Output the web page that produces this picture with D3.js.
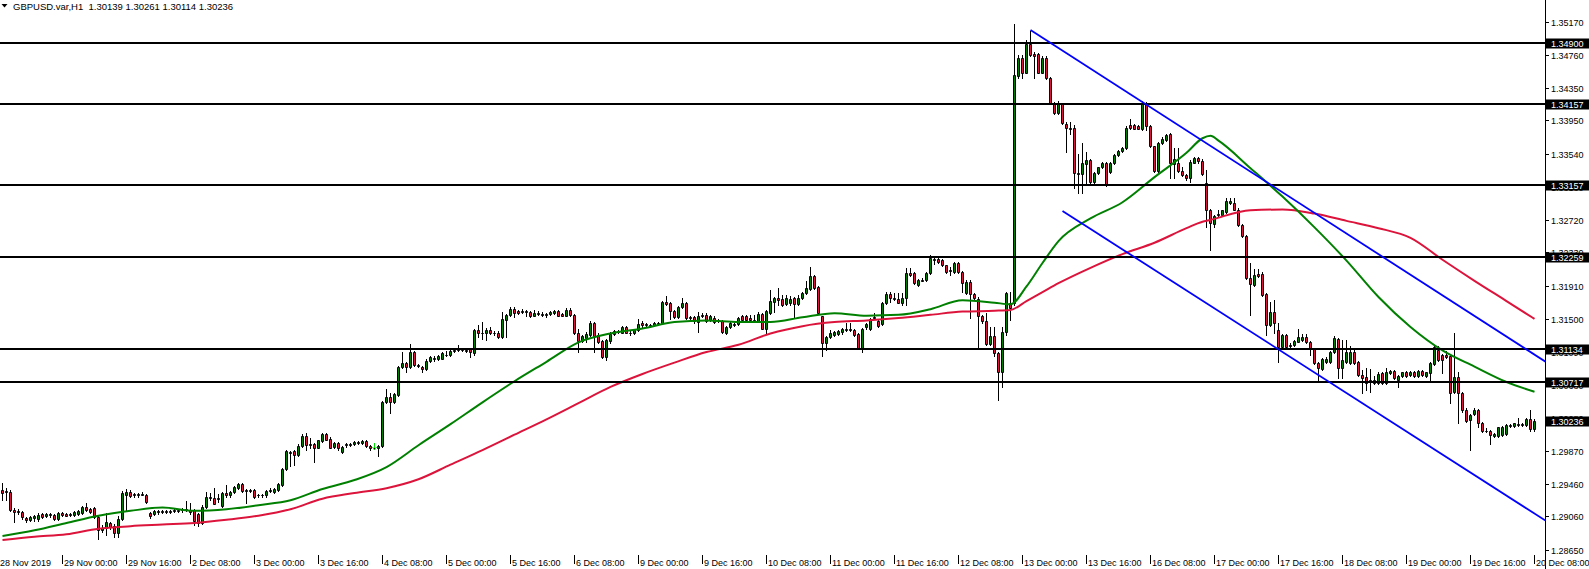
<!DOCTYPE html>
<html><head><meta charset="utf-8">
<script src="https://cdn.jsdelivr.net/npm/d3@7"></script>
<style>
body{margin:0;background:#fff;}
svg{display:block;}
text{font-family:"Liberation Sans",Arial,sans-serif;font-size:9px;}
text.title{font-size:9.5px;}
</style>
</head><body>
<svg id="c" width="1589" height="569"></svg>
<script>
const symbol = "GBPUSD.var,H1";
const opens = [
1.2939,1.2936,1.2936,1.2914,1.2912,1.2912,1.2904,1.2902,1.2904,1.2903,1.2909,1.2907,1.2908,1.2908,1.2903,1.2910,
1.2909,1.2908,1.2908,1.2909,1.2910,1.2918,1.2915,1.2916,1.2905,1.2889,1.2892,1.2898,1.2894,1.2886,1.2903,1.2933,
1.2936,1.2934,1.2933,1.2934,1.2933,1.2910,1.2909,1.2912,1.2912,1.2913,1.2912,1.2913,1.2913,1.2914,1.2914,1.2914,
1.2914,1.2909,1.2898,1.2918,1.2929,1.2929,1.2928,1.2919,1.2935,1.2932,1.2936,1.2941,1.2946,1.2939,1.2939,1.2939,
1.2933,1.2932,1.2932,1.2938,1.2936,1.2939,1.2945,1.2965,1.2985,1.2987,1.2982,1.2993,1.3005,1.2994,1.2996,1.2991,
1.2999,1.3008,1.3002,1.2992,1.2997,1.2986,1.2994,1.2994,1.2996,1.2997,1.2997,1.2999,1.2993,1.2991,1.2991,1.2993,
1.3047,1.3054,1.3047,1.3056,1.3091,1.3096,1.3091,1.3109,1.3093,1.3091,1.3088,1.3098,1.3101,1.3100,1.3101,1.3105,
1.3105,1.3110,1.3112,1.3112,1.3112,1.3113,1.3108,1.3136,1.3133,1.3132,1.3136,1.3133,1.3133,1.3128,1.3149,1.3155,
1.3162,1.3160,1.3158,1.3160,1.3158,1.3154,1.3157,1.3156,1.3156,1.3156,1.3157,1.3160,1.3156,1.3154,1.3161,1.3155,
1.3132,1.3123,1.3126,1.3130,1.3145,1.3130,1.3123,1.3103,1.3123,1.3131,1.3134,1.3133,1.3140,1.3133,1.3132,1.3136,
1.3145,1.3144,1.3142,1.3142,1.3144,1.3145,1.3171,1.3170,1.3160,1.3152,1.3165,1.3170,1.3152,1.3152,1.3146,1.3154,
1.3155,1.3149,1.3151,1.3149,1.3147,1.3133,1.3140,1.3144,1.3144,1.3154,1.3154,1.3151,1.3149,1.3147,1.3156,1.3138,
1.3157,1.3171,1.3176,1.3175,1.3168,1.3170,1.3176,1.3168,1.3176,1.3182,1.3187,1.3203,1.3189,1.3153,1.3120,1.3128,
1.3130,1.3131,1.3134,1.3137,1.3137,1.3136,1.3131,1.3114,1.3140,1.3138,1.3151,1.3147,1.3144,1.3170,1.3181,1.3176,
1.3175,1.3170,1.3176,1.3207,1.3207,1.3192,1.3198,1.3198,1.3207,1.3224,1.3224,1.3223,1.3216,1.3210,1.3208,1.3219,
1.3208,1.3182,1.3195,1.3181,1.3175,1.3153,1.3147,1.3119,1.3129,1.3108,1.3085,1.3134,1.3170,1.3170,1.3450,1.3472,
1.3454,1.3489,1.3477,1.3477,1.3454,1.3472,1.3447,1.3416,1.3404,1.3415,1.3391,1.3386,1.3386,1.3330,1.3329,1.3341,
1.3346,1.3319,1.3330,1.3337,1.3342,1.3331,1.3342,1.3352,1.3357,1.3361,1.3389,1.3389,1.3388,1.3385,1.3416,1.3388,
1.3363,1.3332,1.3367,1.3371,1.3378,1.3341,1.3342,1.3332,1.3328,1.3324,1.3343,1.3349,1.3345,1.3318,1.3284,1.3267,
1.3278,1.3278,1.3282,1.3293,1.3293,1.3285,1.3266,1.3252,1.3200,1.3192,1.3206,1.3206,1.3181,1.3142,1.3159,1.3136,
1.3115,1.3130,1.3118,1.3118,1.3122,1.3124,1.3128,1.3122,1.3113,1.3096,1.3088,1.3097,1.3097,1.3109,1.3125,1.3089,
1.3097,1.3095,1.3109,1.3097,1.3081,1.3078,1.3074,1.3071,1.3071,1.3083,1.3071,1.3083,1.3086,1.3075,1.3079,1.3085,
1.3081,1.3085,1.3079,1.3086,1.3079,1.3083,1.3094,1.3112,1.3105,1.3105,1.3104,1.3060,1.3078,1.3058,1.3037,1.3025,
1.3033,1.3037,1.3022,1.3012,1.3012,1.3005,1.3005,1.3007,1.3008,1.3019,1.3018,1.3020,1.3020,1.3019,1.3026,1.30139
];
const highs = [
1.2947,1.2941,1.2939,1.2916,1.2915,1.2913,1.2905,1.2907,1.2908,1.2910,1.2910,1.2910,1.2910,1.2909,1.2912,1.2912,
1.2910,1.2910,1.2913,1.2914,1.2919,1.2923,1.2916,1.2918,1.2907,1.2895,1.2910,1.2899,1.2897,1.2907,1.2937,1.2940,
1.2939,1.2935,1.2935,1.2936,1.2934,1.2912,1.2914,1.2914,1.2914,1.2914,1.2914,1.2915,1.2915,1.2916,1.2925,1.2923,
1.2915,1.2910,1.2920,1.2936,1.2935,1.2941,1.2934,1.2936,1.2945,1.2938,1.2944,1.2947,1.2947,1.2940,1.2940,1.2940,
1.2934,1.2934,1.2939,1.2941,1.2941,1.2947,1.2966,1.2988,1.2987,1.2988,1.2996,1.3008,1.3009,1.3003,1.2997,1.3001,
1.3009,1.3009,1.3004,1.2998,1.2998,1.2993,1.2997,1.2997,1.2999,1.2999,1.3000,1.3000,1.2994,1.2993,1.2994,1.3049,
1.3063,1.3058,1.3058,1.3092,1.3109,1.3097,1.3119,1.3110,1.3094,1.3092,1.3100,1.3104,1.3104,1.3105,1.3109,1.3110,
1.3112,1.3113,1.3118,1.3113,1.3113,1.3114,1.3137,1.3142,1.3146,1.3139,1.3140,1.3135,1.3135,1.3159,1.3156,1.3165,
1.3165,1.3161,1.3162,1.3161,1.3160,1.3161,1.3160,1.3158,1.3157,1.3160,1.3161,1.3161,1.3157,1.3163,1.3163,1.3156,
1.3137,1.3130,1.3134,1.3147,1.3146,1.3133,1.3124,1.3125,1.3134,1.3136,1.3136,1.3141,1.3141,1.3135,1.3137,1.3150,
1.3147,1.3145,1.3144,1.3146,1.3146,1.3172,1.3178,1.3171,1.3161,1.3166,1.3176,1.3171,1.3154,1.3154,1.3158,1.3157,
1.3157,1.3155,1.3154,1.3150,1.3149,1.3141,1.3147,1.3145,1.3152,1.3155,1.3155,1.3155,1.3155,1.3158,1.3157,1.3161,
1.3186,1.3177,1.3188,1.3179,1.3179,1.3178,1.3177,1.3179,1.3183,1.3197,1.3214,1.3204,1.3191,1.3154,1.3129,1.3136,
1.3135,1.3136,1.3139,1.3145,1.3145,1.3137,1.3133,1.3139,1.3145,1.3151,1.3157,1.3149,1.3171,1.3183,1.3183,1.3182,
1.3182,1.3182,1.3213,1.3213,1.3208,1.3199,1.3200,1.3208,1.3229,1.3228,1.3227,1.3224,1.3217,1.3214,1.3220,1.3220,
1.3209,1.3198,1.3198,1.3182,1.3177,1.3155,1.3157,1.3140,1.3140,1.3109,1.3140,1.3183,1.3183,1.3514,1.3476,1.3476,
1.3494,1.3505,1.3480,1.3478,1.3474,1.3474,1.3449,1.3418,1.3419,1.3416,1.3393,1.3393,1.3389,1.3354,1.3367,1.3356,
1.3347,1.3331,1.3338,1.3344,1.3344,1.3344,1.3354,1.3359,1.3362,1.3388,1.3397,1.3391,1.3389,1.3419,1.3418,1.3389,
1.3364,1.3368,1.3375,1.3378,1.3379,1.3361,1.3361,1.3338,1.3329,1.3346,1.3350,1.3350,1.3347,1.3334,1.3286,1.3278,
1.3284,1.3285,1.3299,1.3299,1.3299,1.3287,1.3267,1.3253,1.3219,1.3212,1.3212,1.3208,1.3182,1.3171,1.3173,1.3145,
1.3131,1.3131,1.3120,1.3124,1.3137,1.3131,1.3131,1.3123,1.3114,1.3097,1.3102,1.3103,1.3110,1.3129,1.3126,1.3124,
1.3124,1.3116,1.3112,1.3098,1.3087,1.3089,1.3088,1.3079,1.3085,1.3085,1.3089,1.3087,1.3087,1.3081,1.3085,1.3086,
1.3086,1.3086,1.3087,1.3087,1.3085,1.3097,1.3118,1.3116,1.3107,1.3110,1.3105,1.3133,1.3085,1.3060,1.3040,1.3033,
1.3040,1.3039,1.3023,1.3015,1.3013,1.3009,1.3017,1.3018,1.3020,1.3020,1.3022,1.3027,1.3021,1.3027,1.3037,1.30261
];
const lows = [
1.2926,1.2926,1.2913,1.2899,1.2909,1.2903,1.2899,1.2900,1.2900,1.2900,1.2904,1.2905,1.2905,1.2902,1.2902,1.2907,
1.2907,1.2907,1.2907,1.2908,1.2909,1.2913,1.2910,1.2904,1.2878,1.2887,1.2883,1.2891,1.2881,1.2881,1.2902,1.2913,
1.2930,1.2930,1.2930,1.2932,1.2923,1.2904,1.2908,1.2909,1.2910,1.2910,1.2910,1.2912,1.2912,1.2912,1.2913,1.2909,
1.2896,1.2894,1.2897,1.2916,1.2926,1.2921,1.2924,1.2918,1.2930,1.2930,1.2935,1.2940,1.2936,1.2923,1.2936,1.2929,
1.2930,1.2930,1.2930,1.2936,1.2935,1.2938,1.2944,1.2963,1.2968,1.2970,1.2981,1.2992,1.2988,1.2990,1.2973,1.2990,
1.2998,1.3000,1.2990,1.2991,1.2988,1.2984,1.2992,1.2993,1.2994,1.2996,1.2996,1.2992,1.2988,1.2989,1.2981,1.2992,
1.3046,1.3034,1.3046,1.3055,1.3089,1.3084,1.3089,1.3092,1.3091,1.3085,1.3087,1.3097,1.3098,1.3099,1.3100,1.3104,
1.3104,1.3109,1.3110,1.3110,1.3109,1.3103,1.3106,1.3128,1.3125,1.3124,1.3131,1.3130,1.3126,1.3126,1.3128,1.3154,
1.3152,1.3156,1.3157,1.3154,1.3152,1.3153,1.3155,1.3154,1.3152,1.3155,1.3156,1.3153,1.3153,1.3153,1.3154,1.3131,
1.3109,1.3122,1.3122,1.3129,1.3109,1.3120,1.3102,1.3099,1.3120,1.3130,1.3133,1.3132,1.3132,1.3130,1.3131,1.3135,
1.3140,1.3141,1.3140,1.3141,1.3142,1.3144,1.3167,1.3150,1.3151,1.3151,1.3163,1.3150,1.3147,1.3145,1.3134,1.3152,
1.3146,1.3147,1.3145,1.3146,1.3133,1.3131,1.3139,1.3141,1.3142,1.3147,1.3147,1.3147,1.3146,1.3146,1.3137,1.3131,
1.3156,1.3158,1.3167,1.3166,1.3167,1.3167,1.3152,1.3167,1.3175,1.3181,1.3186,1.3187,1.3156,1.3104,1.3112,1.3127,
1.3129,1.3130,1.3131,1.3135,1.3135,1.3129,1.3113,1.3109,1.3138,1.3136,1.3150,1.3140,1.3142,1.3168,1.3171,1.3173,
1.3169,1.3167,1.3167,1.3203,1.3193,1.3191,1.3197,1.3197,1.3205,1.3218,1.3219,1.3215,1.3207,1.3204,1.3207,1.3207,
1.3183,1.3181,1.3151,1.3175,1.3114,1.3145,1.3118,1.3118,1.3104,1.3050,1.3066,1.3130,1.3149,1.3167,1.3447,1.3447,
1.3453,1.3474,1.3447,1.3453,1.3453,1.3446,1.3415,1.3403,1.3403,1.3390,1.3356,1.3378,1.3311,1.3305,1.3305,1.3315,
1.3315,1.3318,1.3329,1.3336,1.3314,1.3330,1.3341,1.3351,1.3356,1.3360,1.3384,1.3384,1.3384,1.3383,1.3383,1.3362,
1.3331,1.3331,1.3366,1.3370,1.3324,1.3324,1.3331,1.3326,1.3322,1.3319,1.3342,1.3343,1.3328,1.3264,1.3235,1.3264,
1.3277,1.3277,1.3281,1.3292,1.3284,1.3265,1.3251,1.3199,1.3155,1.3190,1.3202,1.3178,1.3130,1.3141,1.3132,1.3097,
1.3114,1.3114,1.3114,1.3116,1.3121,1.3123,1.3120,1.3105,1.3094,1.3072,1.3087,1.3096,1.3096,1.3108,1.3077,1.3077,
1.3096,1.3094,1.3094,1.3079,1.3059,1.3062,1.3060,1.3070,1.3070,1.3070,1.3070,1.3082,1.3076,1.3066,1.3078,1.3078,
1.3079,1.3078,1.3078,1.3079,1.3078,1.3075,1.3093,1.3098,1.3083,1.3102,1.3046,1.3059,1.3022,1.3035,1.3023,1.2988,
1.3031,1.3016,1.3010,1.3010,1.2995,1.3004,1.3004,1.3005,1.3007,1.3017,1.3017,1.3018,1.3018,1.3018,1.3011,1.30114
];
const closes = [
1.2935,1.2937,1.2914,1.2912,1.2913,1.2905,1.2902,1.2905,1.2907,1.2908,1.2905,1.2909,1.2909,1.2903,1.2910,1.2908,
1.2907,1.2909,1.2912,1.2913,1.2918,1.2914,1.2912,1.2905,1.2889,1.2892,1.2899,1.2893,1.2886,1.2903,1.2935,1.2936,
1.2931,1.2932,1.2934,1.2933,1.2924,1.2907,1.2913,1.2913,1.2913,1.2912,1.2913,1.2914,1.2914,1.2915,1.2915,1.2912,
1.2900,1.2898,1.2918,1.2930,1.2930,1.2922,1.2929,1.2935,1.2932,1.2936,1.2943,1.2946,1.2938,1.2938,1.2938,1.2930,
1.2932,1.2933,1.2938,1.2939,1.2940,1.2946,1.2965,1.2987,1.2986,1.2982,1.2993,1.3005,1.2994,1.2996,1.2991,1.3000,
1.3008,1.3001,1.2991,1.2997,1.2990,1.2992,1.2996,1.2995,1.2998,1.2998,1.2999,1.2993,1.2990,1.2990,1.2993,1.3047,
1.3054,1.3047,1.3057,1.3091,1.3096,1.3091,1.3109,1.3093,1.3092,1.3088,1.3098,1.3103,1.3102,1.3104,1.3108,1.3106,
1.3110,1.3112,1.3113,1.3111,1.3110,1.3109,1.3136,1.3132,1.3132,1.3136,1.3132,1.3132,1.3128,1.3150,1.3155,1.3162,
1.3157,1.3157,1.3160,1.3158,1.3154,1.3157,1.3156,1.3155,1.3155,1.3158,1.3160,1.3154,1.3154,1.3161,1.3155,1.3132,
1.3123,1.3129,1.3131,1.3145,1.3129,1.3122,1.3103,1.3124,1.3131,1.3135,1.3135,1.3140,1.3133,1.3132,1.3136,1.3144,
1.3142,1.3142,1.3141,1.3145,1.3145,1.3171,1.3168,1.3160,1.3152,1.3165,1.3170,1.3151,1.3151,1.3147,1.3154,1.3155,
1.3147,1.3154,1.3146,1.3147,1.3134,1.3140,1.3145,1.3142,1.3151,1.3149,1.3149,1.3149,1.3147,1.3156,1.3138,1.3160,
1.3172,1.3176,1.3173,1.3167,1.3176,1.3175,1.3168,1.3176,1.3182,1.3188,1.3203,1.3188,1.3157,1.3120,1.3128,1.3132,
1.3134,1.3135,1.3138,1.3136,1.3136,1.3130,1.3114,1.3138,1.3144,1.3150,1.3152,1.3141,1.3170,1.3181,1.3176,1.3175,
1.3170,1.3176,1.3207,1.3204,1.3194,1.3198,1.3197,1.3207,1.3225,1.3223,1.3220,1.3216,1.3208,1.3209,1.3219,1.3208,
1.3194,1.3195,1.3181,1.3176,1.3153,1.3147,1.3119,1.3129,1.3108,1.3085,1.3134,1.3182,1.3164,1.3451,1.3472,1.3454,
1.3489,1.3476,1.3475,1.3454,1.3472,1.3447,1.3416,1.3404,1.3415,1.3392,1.3386,1.3385,1.3330,1.3329,1.3342,1.3346,
1.3319,1.3330,1.3337,1.3342,1.3315,1.3342,1.3352,1.3357,1.3361,1.3386,1.3386,1.3385,1.3385,1.3416,1.3388,1.3363,
1.3332,1.3367,1.3372,1.3377,1.3342,1.3348,1.3332,1.3328,1.3324,1.3344,1.3349,1.3345,1.3329,1.3284,1.3268,1.3277,
1.3280,1.3284,1.3296,1.3296,1.3285,1.3266,1.3252,1.3200,1.3193,1.3204,1.3203,1.3180,1.3142,1.3159,1.3145,1.3115,
1.3130,1.3115,1.3116,1.3123,1.3128,1.3128,1.3121,1.3113,1.3095,1.3089,1.3100,1.3101,1.3109,1.3126,1.3089,1.3099,
1.3109,1.3109,1.3095,1.3081,1.3077,1.3071,1.3073,1.3075,1.3082,1.3071,1.3085,1.3086,1.3077,1.3079,1.3084,1.3079,
1.3085,1.3079,1.3086,1.3081,1.3084,1.3095,1.3115,1.3099,1.3099,1.3103,1.3059,1.3078,1.3059,1.3037,1.3024,1.3031,
1.3037,1.3022,1.3011,1.3011,1.3007,1.3008,1.3016,1.3017,1.3019,1.3018,1.3021,1.3019,1.3019,1.3026,1.3014,1.30236
];
const timeLabels = ["28 Nov 2019","29 Nov 00:00","29 Nov 16:00","2 Dec 08:00","3 Dec 00:00","3 Dec 16:00","4 Dec 08:00",
"5 Dec 00:00","5 Dec 16:00","6 Dec 08:00","9 Dec 00:00","9 Dec 16:00","10 Dec 08:00","11 Dec 00:00","11 Dec 16:00",
"12 Dec 08:00","13 Dec 00:00","13 Dec 16:00","16 Dec 08:00","17 Dec 00:00","17 Dec 16:00","18 Dec 08:00","19 Dec 00:00",
"19 Dec 16:00","20 Dec 08:00"];
const timeLabelBars = [0,15,31,47,63,79,95,111,127,143,159,175,191,207,223,239,255,271,287,303,319,335,351,367,383];
const priceTicks = [1.35170,1.34760,1.34350,1.33950,1.33540,1.33130,1.32720,1.32330,1.31910,1.31500,1.31090,1.30680,1.30280,1.29870,1.29460,1.29060,1.28650];
const levels = [1.34900,1.34157,1.33157,1.32259,1.31134,1.30717];
const maBars = [0,8,16,24,32,40,48,56,64,72,80,88,96,104,112,120,128,136,144,152,160,168,176,184,192,200,208,216,224,232,240,248,252,256,260,264,272,280,288,296,300,302,304,312,320,328,336,344,352,360,368,376,383];
const maGreen = [1.2882,1.2889,1.2898,1.2907,1.2913,1.2917,1.2913,1.2915,1.2920,1.2926,1.2940,1.2951,1.2967,1.2994,1.3020,1.3047,1.3073,1.3097,1.3121,1.3132,1.3138,1.3146,1.3148,1.3146,1.3146,1.3152,1.3157,1.3154,1.3155,1.3162,1.3173,1.3170,1.3168,1.3190,1.3219,1.3246,1.3274,1.3294,1.3325,1.3355,1.3373,1.3376,1.3370,1.3336,1.3301,1.3263,1.3222,1.3177,1.3140,1.3111,1.3091,1.3072,1.3060];
const maRed = [1.2877,1.2881,1.2884,1.2891,1.2894,1.2896,1.2898,1.2902,1.2907,1.2915,1.2928,1.2935,1.2941,1.2952,1.2970,1.2988,1.3007,1.3026,1.3046,1.3066,1.3082,1.3096,1.3109,1.3118,1.3132,1.3141,1.3146,1.3148,1.3151,1.3155,1.3159,1.3160,1.3161,1.3172,1.3183,1.3194,1.3213,1.3230,1.3244,1.3262,1.3270,1.3272,1.3275,1.3284,1.3285,1.3280,1.3271,1.3262,1.3250,1.3223,1.3197,1.3172,1.3150];
const channelUpper = [[257,1.35067],[376,1.31281]];
const channelLower = [[265,1.32832],[376,1.29318]];
const arrowBars = [93];
const arrowPrices = [1.2992];

const W = 1589, H = 569, plotRight = 1545;
const svg = d3.select('#c');
svg.append('rect').attr('width', W).attr('height', H).attr('fill', '#fff');
const x = d3.scaleLinear().domain([0, 383]).range([2.5, 1534.5]);
const y = d3.scaleLinear().domain([1.28597, 1.35437]).range([554, 0]);

svg.append('clipPath').attr('id', 'pc').append('rect').attr('x', 0).attr('y', 0).attr('width', plotRight).attr('height', H);
const plot = svg.append('g').attr('clip-path', 'url(#pc)');

const bars = opens.map((o, i) => ({i, o, h: highs[i], l: lows[i], c: closes[i]}));
plot.append('g').selectAll('line').data(bars).join('line')
  .attr('x1', d => x(d.i)).attr('x2', d => x(d.i))
  .attr('y1', d => Math.round(y(d.h))).attr('y2', d => Math.round(y(d.l)) + 1)
  .attr('stroke', '#000').attr('stroke-width', 1);
plot.append('g').selectAll('path').data(bars).join('path')
  .attr('d', d => {
    const t = Math.round(y(Math.max(d.o, d.c))), b = Math.round(y(Math.min(d.o, d.c)));
    return `M${x(d.i) - 1},${t + 0.5}h2v${b - t}h-2Z`;
  })
  .attr('fill', d => d.c >= d.o ? '#008000' : '#dc143c')
  .attr('stroke', '#000').attr('stroke-width', 1);

// arrow marker
arrowBars.forEach((b, k) => {
  const ax = x(b), ay = Math.round(y(arrowPrices[k]));
  plot.append('path').attr('d', `M${ax},${ay - 4}V${ay + 1}M${ax - 2},${ay}L${ax},${ay + 3}L${ax + 2},${ay}`)
    .attr('stroke', '#00e000').attr('stroke-width', 1).attr('fill', 'none');
});

const maLine = d3.line().x(d => x(d[0])).y(d => y(d[1])).curve(d3.curveMonotoneX);
plot.append('path').datum(maBars.map((b, k) => [b, maRed[k]])).attr('d', maLine)
  .attr('fill', 'none').attr('stroke', '#dc143c').attr('stroke-width', 2);
plot.append('path').datum(maBars.map((b, k) => [b, maGreen[k]])).attr('d', maLine)
  .attr('fill', 'none').attr('stroke', '#008000').attr('stroke-width', 2);

// horizontal levels
plot.append('g').selectAll('line').data(levels).join('line')
  .attr('x1', 0).attr('x2', plotRight)
  .attr('y1', d => Math.round(y(d))).attr('y2', d => Math.round(y(d)))
  .attr('stroke', '#000').attr('stroke-width', 2);

// channel rays
const straight = d3.line().x(d => x(d[0])).y(d => y(d[1]));
[channelUpper, channelLower].forEach(a => {
  const [b1, p1] = a[0], [b2, p2] = a[1];
  const s = (p2 - p1) / (b2 - b1);
  const be = x.invert(plotRight + 2);
  plot.append('path').datum([[b1, p1], [be, p1 + s * (be - b1)]]).attr('d', straight)
    .attr('fill', 'none').attr('stroke', '#0000ff').attr('stroke-width', 1.8);
});

// price axis
svg.append('line').attr('x1', plotRight + 0.5).attr('x2', plotRight + 0.5).attr('y1', 0).attr('y2', H)
  .attr('stroke', '#000').attr('stroke-width', 1);
const pt = svg.append('g');
priceTicks.forEach(t => {
  const ty = Math.round(y(t));
  pt.append('line').attr('x1', plotRight).attr('x2', plotRight + 4).attr('y1', ty + 0.5).attr('y2', ty + 0.5)
    .attr('stroke', '#000').attr('stroke-width', 1);
  pt.append('text').attr('x', plotRight + 6).attr('y', ty + 4).attr('fill', '#000').text(t.toFixed(5));
});
const boxes = levels.concat([closes[closes.length - 1]]);
boxes.forEach(v => {
  const ty = Math.round(y(v));
  svg.append('rect').attr('x', plotRight + 1).attr('y', ty - 4.5).attr('width', W - plotRight - 1).attr('height', 10).attr('fill', '#000');
  svg.append('text').attr('x', plotRight + 6).attr('y', ty + 4).attr('fill', '#fff').text(v.toFixed(5));
});

// time axis
const ta = svg.append('g');
timeLabels.forEach((lab, k) => {
  const bx = x(timeLabelBars[k]);
  if (k > 0) {
    ta.append('line').attr('x1', bx).attr('x2', bx).attr('y1', 555).attr('y2', 564)
      .attr('stroke', '#000').attr('stroke-width', 1);
  }
  ta.append('text').attr('x', k === 0 ? 0 : bx + 1.5).attr('y', 565.5).attr('fill', '#000').text(lab);
});

// title
svg.append('path').attr('d', 'M1.5,4L7.5,4L4.5,7.5Z').attr('fill', '#000');
const last = closes.length - 1;
svg.append('text').attr('class', 'title').attr('x', 13).attr('y', 10).attr('fill', '#000').style('white-space', 'pre')
  .text(`${symbol}  ${opens[last].toFixed(5)} ${highs[last].toFixed(5)} ${lows[last].toFixed(5)} ${closes[last].toFixed(5)}`);
</script>
</body></html>
